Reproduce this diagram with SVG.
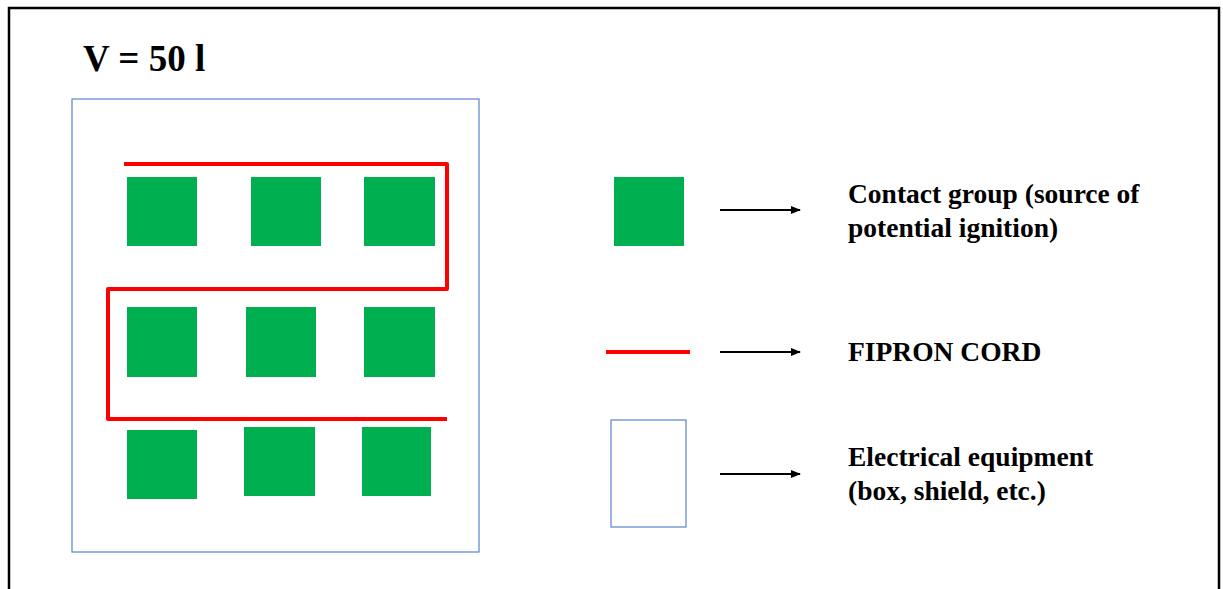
<svg xmlns="http://www.w3.org/2000/svg" width="1223" height="589" viewBox="0 0 1223 589">
  <defs>
    <marker id="arr" markerWidth="10" markerHeight="10" refX="9" refY="5" orient="auto" markerUnits="userSpaceOnUse">
      <path d="M0,1 L10,5 L0,9 z" fill="#000"/>
    </marker>
    <style>
      .g { fill: #00B050; }
      .box { fill: none; stroke: #5B82D0; stroke-width: 1.2; }
      .cord { fill: none; stroke: #FF0000; stroke-width: 4; stroke-linejoin: round; }
      .arrow { stroke: #000; stroke-width: 2; marker-end: url(#arr); }
      .t { font-family: "Liberation Serif", "Times New Roman", serif; font-weight: bold; fill: #000; }
      .lbl { font-size: 27.5px; }
    </style>
  </defs>
  <rect x="0" y="0" width="1223" height="589" fill="#fff"/>
  <rect x="9" y="8" width="1210" height="600" fill="none" stroke="#000" stroke-width="2.5"/>
  <text class="t" x="83" y="71" font-size="37">V = 50 l</text>

  <g id="equipment">
    <rect class="box" x="72" y="99" width="407" height="453"/>
  </g>
  <g id="contacts">
    <rect class="g" x="127" y="177" width="70" height="69"/>
    <rect class="g" x="251" y="177" width="70" height="69"/>
    <rect class="g" x="364" y="177" width="71" height="69"/>
    <rect class="g" x="127" y="307" width="70" height="70"/>
    <rect class="g" x="246" y="307" width="70" height="70"/>
    <rect class="g" x="364" y="307" width="71" height="70"/>
    <rect class="g" x="127" y="430" width="70" height="69"/>
    <rect class="g" x="244" y="427" width="71" height="69"/>
    <rect class="g" x="362" y="427" width="69" height="69"/>
  </g>
  <g id="cord">
    <path class="cord" d="M124,164 H447 V289 H108 V419 H447"/>
  </g>

  <g id="legend-contact">
    <rect class="g" x="614" y="177" width="70" height="69"/>
    <text class="t lbl" x="848" y="203">Contact group (source of</text>
    <text class="t lbl" x="848" y="237">potential ignition)</text>
  </g>
  <g id="legend-cord">
    <line x1="606" y1="352" x2="690" y2="352" stroke="#FF0000" stroke-width="4"/>
    <text class="t lbl" x="848" y="361">FIPRON CORD</text>
  </g>
  <g id="legend-equipment">
    <rect class="box" x="611" y="420" width="75" height="107"/>
    <text class="t lbl" x="848" y="466">Electrical equipment</text>
    <text class="t lbl" x="848" y="500">(box, shield, etc.)</text>
  </g>
  <g id="connectors">
    <line class="arrow" x1="720" y1="210" x2="800" y2="210"/>
    <line class="arrow" x1="720" y1="352" x2="800" y2="352"/>
    <line class="arrow" x1="720" y1="474" x2="800" y2="474"/>
  </g>
</svg>
